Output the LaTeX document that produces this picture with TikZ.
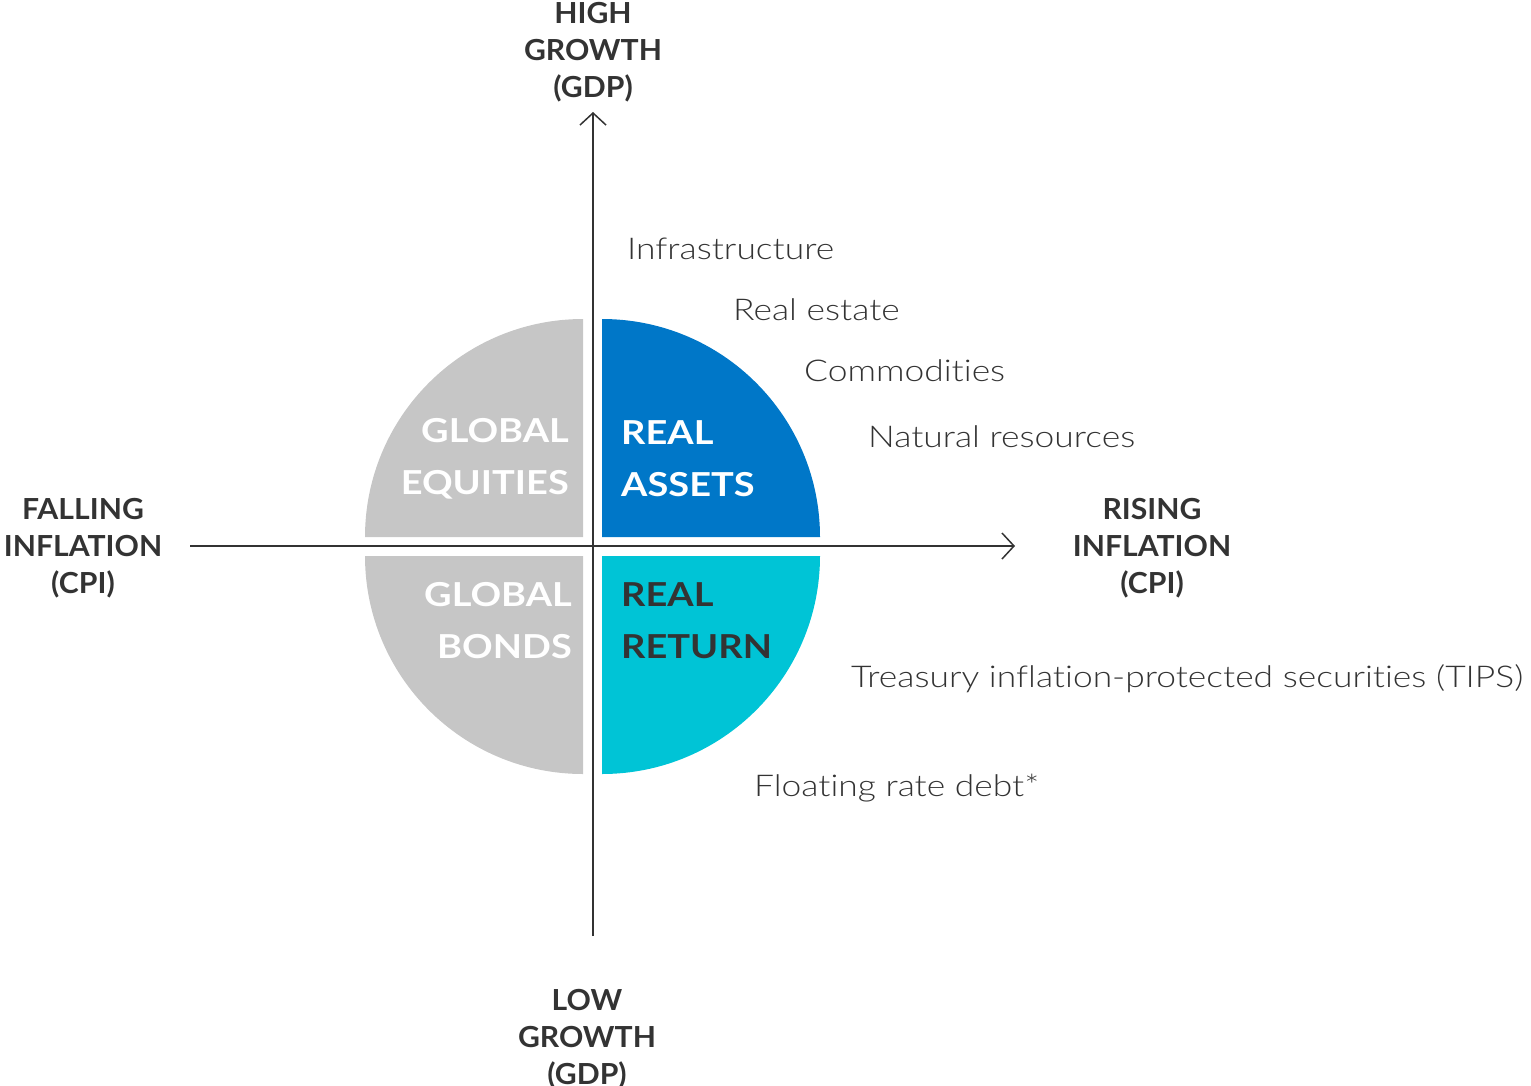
\documentclass[tikz,border=0pt]{standalone}
\usepackage{fontspec}
\setmainfont{Lato}
\newfontfamily\lightfont[FakeStretch=1.18,Ligatures=NoCommon]{Lato Light}
\newfontfamily\axisfont[FakeStretch=1.04]{Lato}
\newfontfamily\quadfont[FakeStretch=1.15]{Lato}
\usepackage{xcolor}
\usetikzlibrary{arrows.meta}

\definecolor{txtgray}{HTML}{333333}
\definecolor{quadgray}{HTML}{C6C6C6}
\definecolor{assetblue}{HTML}{0077C8}
\definecolor{returncyan}{HTML}{00C4D6}

\tikzset{
  axislabel/.style={font=\axisfont\fontsize{29}{37}\selectfont\bfseries, text=txtgray, align=center, inner sep=0pt},
  quadlabel/.style={font=\quadfont\fontsize{33}{52}\selectfont\bfseries, inner sep=0pt},
  itemlabel/.style={font=\lightfont\fontsize{30}{36}\selectfont, text=txtgray, anchor=west, inner sep=0pt},
  axisline/.style={line width=1.5pt, draw=txtgray, -{Straight Barb[length=12pt,width=26pt,line width=1.5pt]}}
}

\begin{document}
\begin{tikzpicture}[x=1pt,y=-1pt]
\useasboundingbox (0,0) rectangle (1531,1085);

% Define coordinates for easier positioning
\coordinate (O) at (593,546);
\coordinate (left) at (190,546);
\coordinate (right) at (1015,546);
\coordinate (top) at (593,112);
\coordinate (bottom) at (593,936);

% Draw the four quarter discs
\fill[assetblue] (602,537) -- (820,537) arc[start angle=0,end angle=-90,radius=218] -- cycle;
\fill[returncyan] (602,556) -- (820,556) arc[start angle=0,end angle=90,radius=218] -- cycle;
\fill[quadgray] (583,537) -- (365,537) arc[start angle=180,end angle=270,radius=218] -- cycle;
\fill[quadgray] (583,556) -- (365,556) arc[start angle=180,end angle=90,radius=218] -- cycle;

% Draw the axes
\draw[axisline] (left) -- (right);
\draw[axisline] (bottom) -- (top);

% Add labels for the axes
\node[axislabel] (high) at (593,52) {HIGH\\GROWTH\\(GDP)};
\node[axislabel] (low) at (587,1039) {LOW\\GROWTH\\(GDP)};
\node[axislabel] (falling) at (83,548) {FALLING\\INFLATION\\(CPI)};
\node[axislabel] (rising) at (1152,548) {RISING\\INFLATION\\(CPI)};

% Add labels for the quadrants
\node[quadlabel, text=white, align=right, anchor=east] (equities) at (569,459) {GLOBAL\\EQUITIES};
\node[quadlabel, text=white, align=right, anchor=east] (bonds) at (572,621) {GLOBAL\\BONDS};
\node[quadlabel, text=white, align=left, anchor=west] (assets) at (621,459) {REAL\\ASSETS};
\node[quadlabel, text=txtgray, align=left, anchor=west] (return) at (621,621) {REAL\\RETURN};

% Add the asset classes
\node[itemlabel] (infra) at (627,249) {Infrastructure};
\node[itemlabel] (estate) at (733,310) {Real estate};
\node[itemlabel] (commod) at (804,371) {Commodities};
\node[itemlabel] (natural) at (868,437) {Natural resources};
\node[itemlabel] (tips) at (851,679) {Treasury inflation-protected securities (TIPS)};
\node[itemlabel] (floating) at (754,788) {Floating rate debt*};
\end{tikzpicture}
\end{document}
